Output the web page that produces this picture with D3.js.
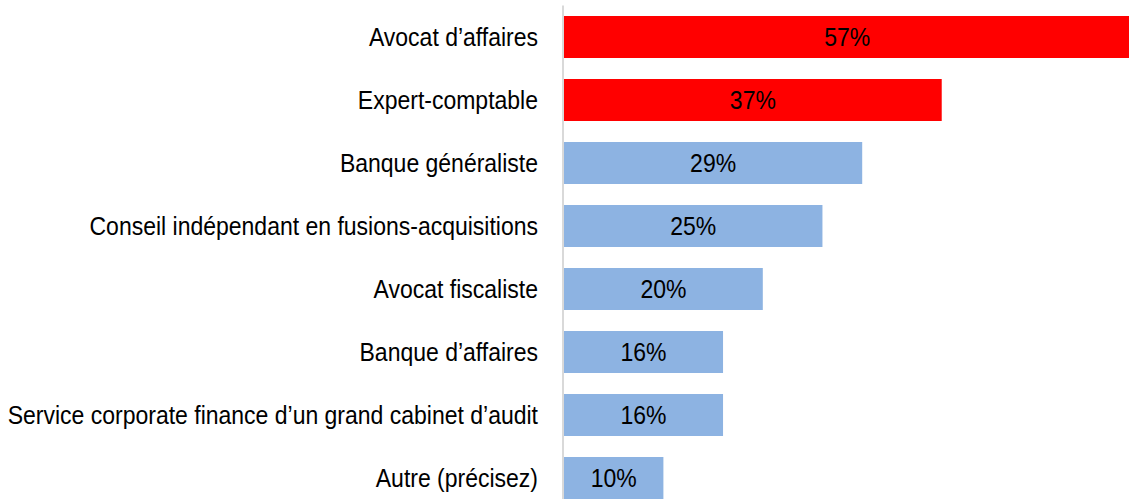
<!DOCTYPE html>
<html>
<head>
<meta charset="utf-8">
<script src="https://cdn.jsdelivr.net/npm/d3@7"></script>
<style>
  body { margin: 0; background: #fff; }
  svg { display: block; }
</style>
</head>
<body>
<div id="wrapper"></div>
<script>
// categories, top to bottom
const categories = [
  "Avocat d\u2019affaires",
  "Expert-comptable",
  "Banque g\u00e9n\u00e9raliste",
  "Conseil ind\u00e9pendant en fusions-acquisitions",
  "Avocat fiscaliste",
  "Banque d\u2019affaires",
  "Service corporate finance d\u2019un grand cabinet d\u2019audit",
  "Autre (pr\u00e9cisez)"
]
// bar lengths (%)
const values = [57, 38, 30, 26, 20, 16, 16, 10]
// labels printed in the bars
const valueLabels = ["57%", "37%", "29%", "25%", "20%", "16%", "16%", "10%"]
// first two bars highlighted
const highlighted = [true, true, false, false, false, false, false, false]

const width = 1129
const height = 499
const axisX = 563

// the reference font is a bit narrow: tall glyphs, squeezed horizontally
const fontSize = 25.5
const squeeze = 23 / 25.5

const svg = d3.select("#wrapper")
  .append("svg")
    .attr("width", width)
    .attr("height", height)

const xScale = d3.scaleLinear()
  .domain([0, 100])
  .range([axisX + 1, axisX + 1 + 994])

const yScale = d3.scaleBand()
  .domain(categories)
  .range([5.5, 509.5])
  .paddingInner(1 / 3)
  .paddingOuter(1 / 6)

const bars = svg.append("g")
  .selectAll("g")
  .data(categories)
  .join("g")

bars.append("rect")
  .attr("x", xScale(0))
  .attr("y", d => yScale(d))
  .attr("width", (d, i) => xScale(values[i]) - xScale(0))
  .attr("height", yScale.bandwidth())
  .attr("fill", (d, i) => highlighted[i] ? "#ff0000" : "#8db3e2")

bars.append("text")
  .attr("transform", (d, i) => {
    const cx = (xScale(0) + xScale(values[i])) / 2
    const cy = yScale(d) + yScale.bandwidth() / 2
    return `translate(${cx},${cy}) scale(${squeeze},1)`
  })
  .attr("dy", "0.36em")
  .attr("text-anchor", "middle")
  .style("font-family", "'Liberation Sans', Arial, sans-serif")
  .style("font-size", fontSize + "px")
  .attr("fill", "#000")
  .text((d, i) => valueLabels[i])

// category axis, labels only
const yAxis = d3.axisLeft(yScale).tickSize(0).tickPadding(25)
const axisG = svg.append("g")
  .attr("transform", `translate(${axisX}, 0)`)
  .call(yAxis)
axisG.select(".domain").remove()
axisG.selectAll("text")
  .attr("x", 0)
  .attr("transform", `translate(-25,0) scale(${squeeze},1)`)
  .attr("dy", "0.36em")
  .style("font-family", "'Liberation Sans', Arial, sans-serif")
  .style("font-size", fontSize + "px")
  .attr("fill", "#000")

svg.append("line")
  .attr("x1", axisX).attr("x2", axisX)
  .attr("y1", 5.5).attr("y2", height)
  .attr("stroke", "#d9d9d9")
  .attr("stroke-width", 2)
</script>
</body>
</html>
